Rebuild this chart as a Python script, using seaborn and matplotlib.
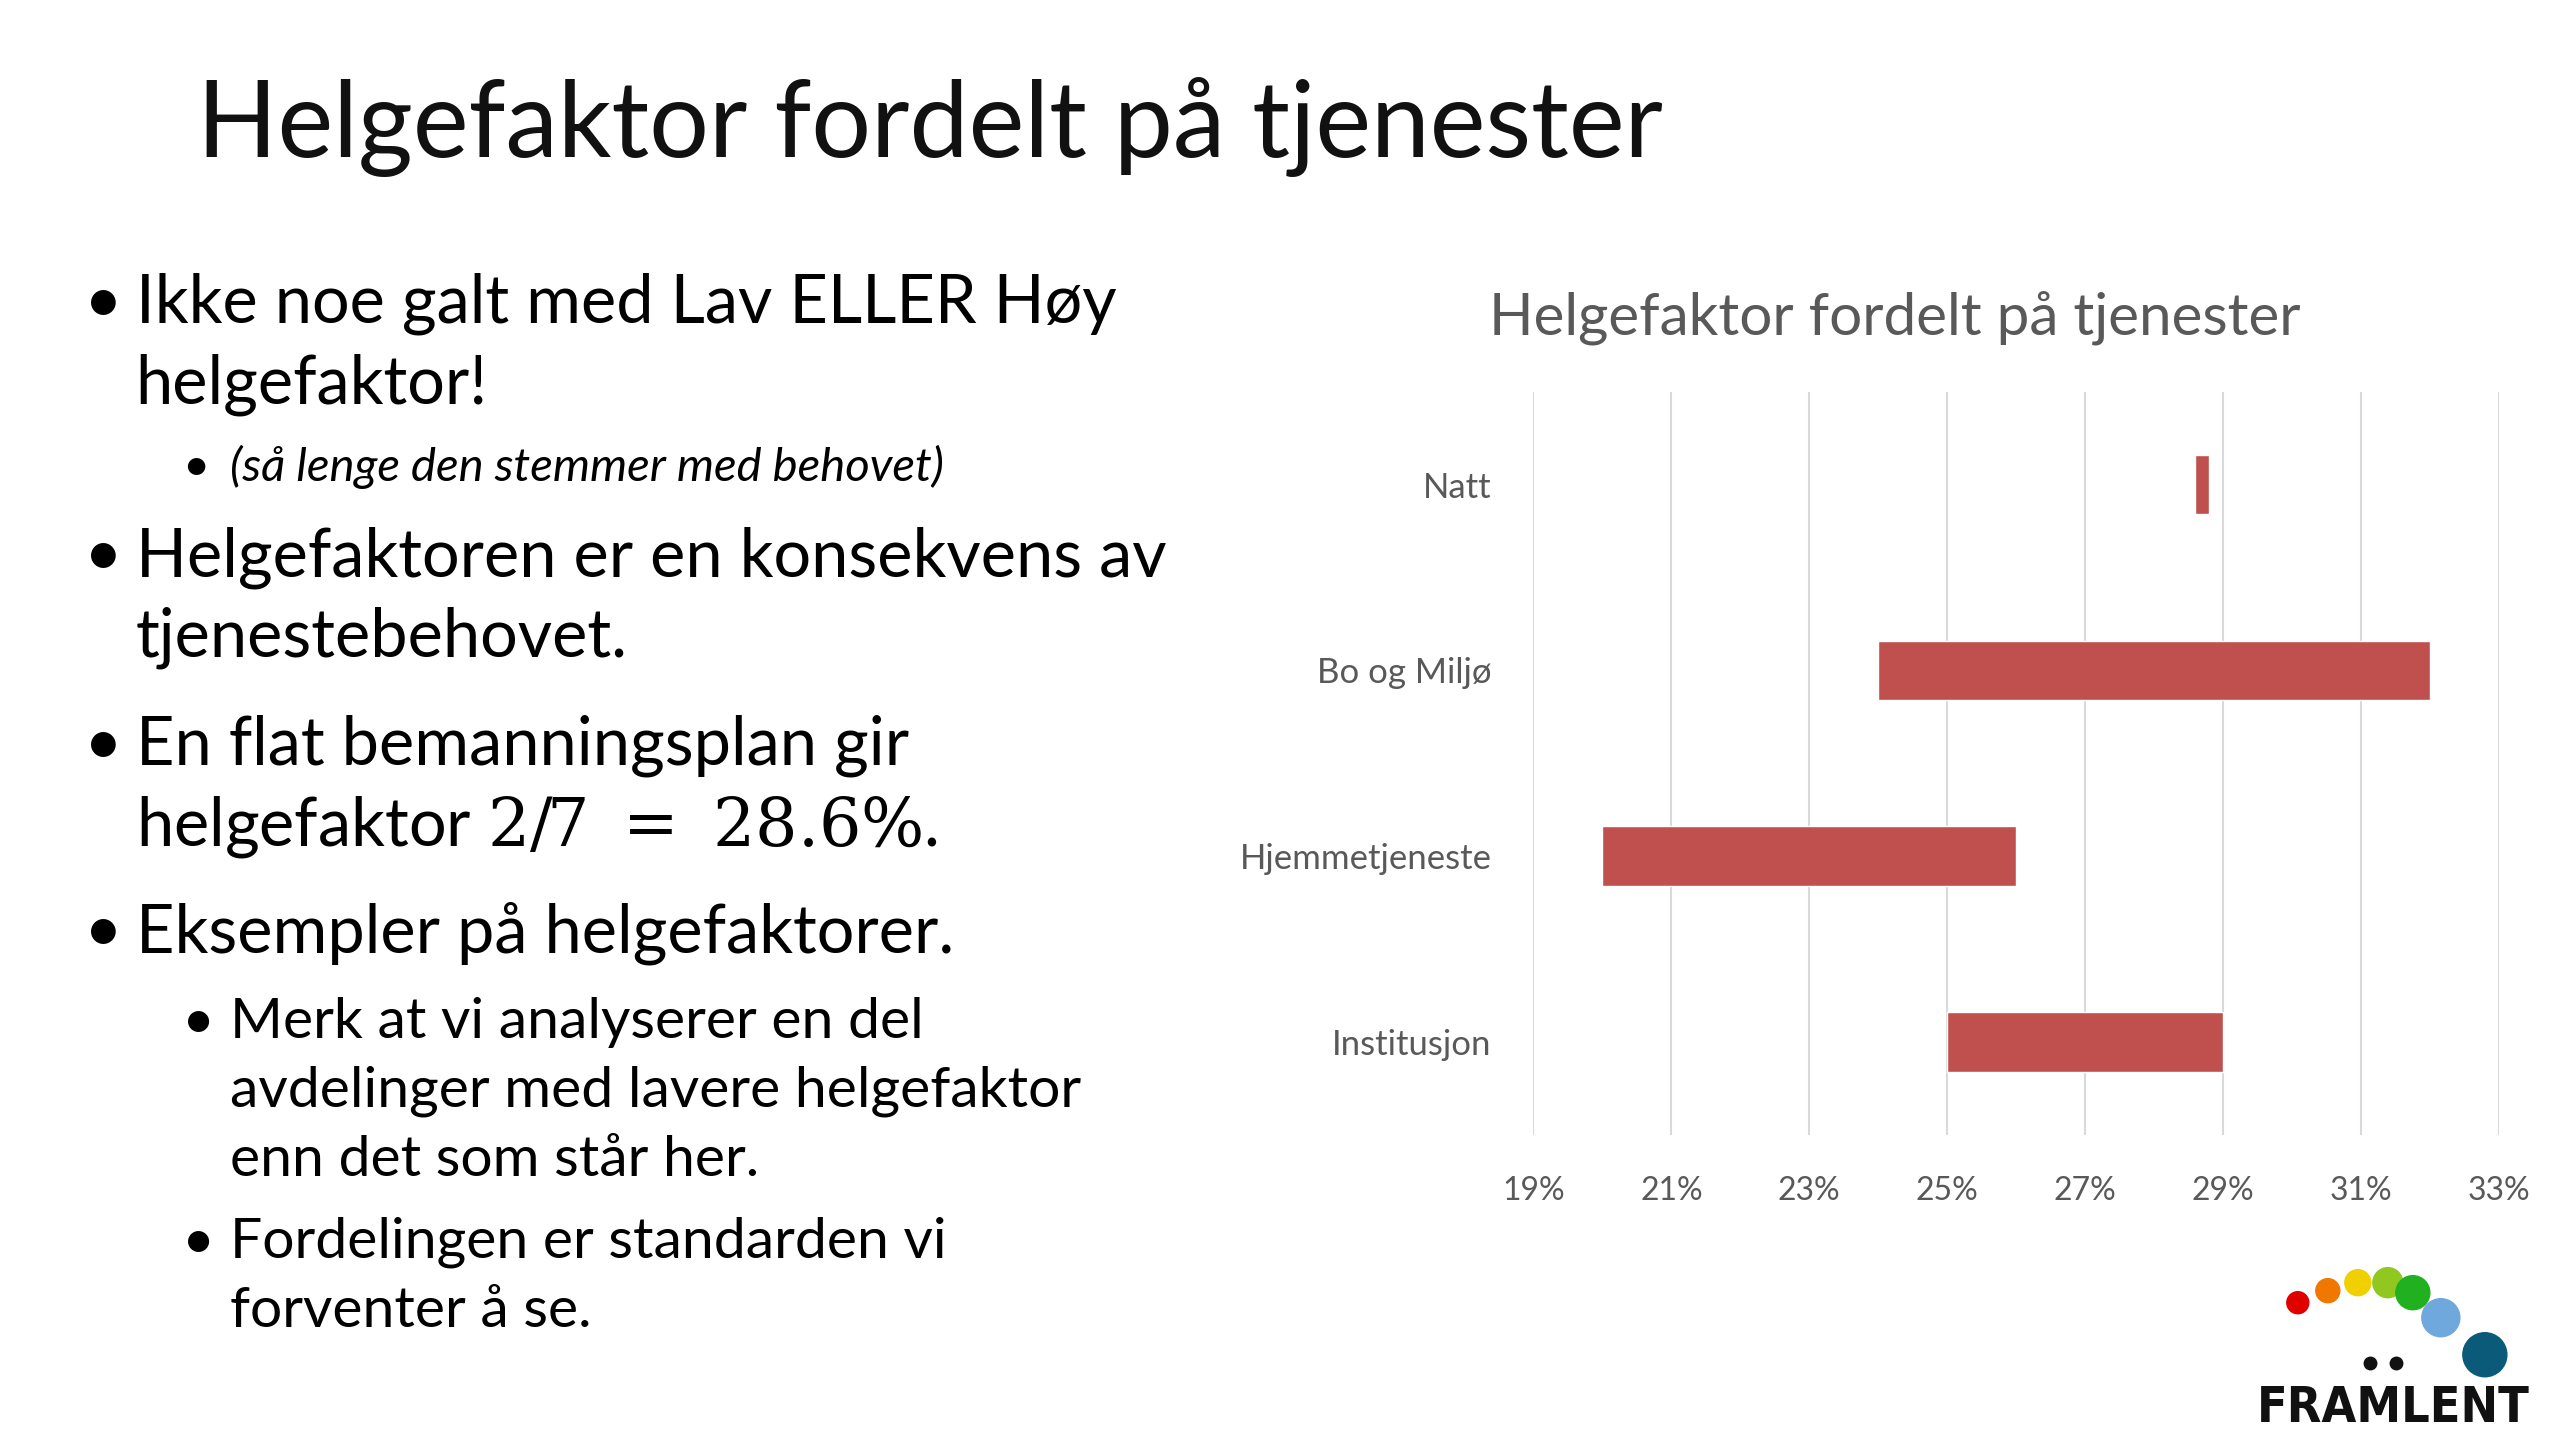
import matplotlib
matplotlib.use("Agg")
import matplotlib.pyplot as plt
import seaborn as sns
import pandas as pd
from matplotlib.patches import Ellipse

categories = ["Natt", "Bo og Miljø", "Hjemmetjeneste", "Institusjon"]
start_vals = [28.6, 24.0, 20.0, 25.0]
end_vals = [28.8, 32.0, 26.0, 29.0]
ticks = [19, 21, 23, 25, 27, 29, 31, 33]
tick_labels = ["19%", "21%", "23%", "25%", "27%", "29%", "31%", "33%"]

df = pd.DataFrame({"cat": categories, "start": start_vals, "end": end_vals})
df["width"] = df["end"] - df["start"]

sns.set_theme(style="white")
plt.rcParams["font.family"] = ["Lato", "DejaVu Sans"]
plt.rcParams["mathtext.fontset"] = "dejavuserif"

fig = plt.figure(figsize=(25.6, 14.4), dpi=100)
fig.patch.set_facecolor("white")

fig.text(0.077, 0.912, "Helgefaktor fordelt på tjenester", fontsize=76, color="#111111", va="center")
bul = dict(fontsize=48, color="black", va="center")
sub = dict(fontsize=41, color="black", va="center")
X1, X1t = 0.033, 0.053
X2, X2t = 0.071, 0.090
items = [
    (X1, X1t, 0.789, "Ikke noe galt med Lav ELLER Høy", bul, True, "normal"),
    (X1, X1t, 0.733, "helgefaktor!", bul, False, "normal"),
    (X2, X2t, 0.676, "(så lenge den stemmer med behovet)", dict(fontsize=34, color="black", va="center"), True, "italic"),
    (X1, X1t, 0.613, "Helgefaktoren er en konsekvens av", bul, True, "normal"),
    (X1, X1t, 0.557, "tjenestebehovet.", bul, False, "normal"),
    (X1, X1t, 0.482, "En flat bemanningsplan gir", bul, True, "normal"),
    (X1, X1t, 0.426, "helgefaktor $\\mathrm{2/7\\ =\\ 28.6\\%}$.", bul, False, "normal"),
    (X1, X1t, 0.352, "Eksempler på helgefaktorer.", bul, True, "normal"),
    (X2, X2t, 0.290, "Merk at vi analyserer en del", sub, True, "normal"),
    (X2, X2t, 0.242, "avdelinger med lavere helgefaktor", sub, False, "normal"),
    (X2, X2t, 0.194, "enn det som står her.", sub, False, "normal"),
    (X2, X2t, 0.137, "Fordelingen er standarden vi", sub, True, "normal"),
    (X2, X2t, 0.089, "forventer å se.", sub, False, "normal"),
]
for xb, xt, y, s, kw, b, st in items:
    if b:
        fig.text(xb, y, "•", **kw)
    fig.text(xt, y, s, style=st, **kw)

ax = fig.add_axes([0.599, 0.212, 0.377, 0.516])
sns.barplot(data=df, y="cat", x="width", left=df["start"], color="#C0504D",
            orient="h", width=0.32, ax=ax, saturation=1)
ax.set_xlim(19, 33)
ax.set_xticks(ticks)
ax.set_xticklabels(tick_labels, fontsize=23, color="#595959")
ax.tick_params(axis="y", labelsize=25, labelcolor="#595959", length=0, pad=30)
ax.tick_params(axis="x", length=0, pad=30)
ax.set_xlabel("")
ax.set_ylabel("")
ax.grid(axis="x", color="#D9D9D9", linewidth=1.5)
ax.set_axisbelow(True)
for s in ax.spines.values():
    s.set_visible(False)
fig.text(0.74, 0.779, "Helgefaktor fordelt på tjenester", fontsize=42, color="#595959", ha="center", va="center")

lax = fig.add_axes([0.880, 0.005, 0.1094, 0.139])
lax.set_xlim(0, 280); lax.set_ylim(0, 200); lax.axis("off")
dots = [(45, 130, 11, "#E00000"), (75, 142, 12, "#F07800"), (105, 150, 13, "#F0D000"),
        (135, 150, 15, "#90C820"), (160, 140, 17, "#20B020"), (188, 115, 19, "#6FA8DC"),
        (232, 78, 22, "#0B5A7A")]
for x, y, r, c in dots:
    lax.add_patch(Ellipse((x, y), 2 * r, 2 * r, color=c))
lax.plot([117, 143], [70, 70], "o", color="#111111", markersize=9)
lax.text(140, 25, "FRAMLENT", fontsize=36, fontweight="bold", ha="center", va="center",
         color="#111111", family="DejaVu Sans", stretch="condensed")

fig.savefig("out.png", dpi=100)
